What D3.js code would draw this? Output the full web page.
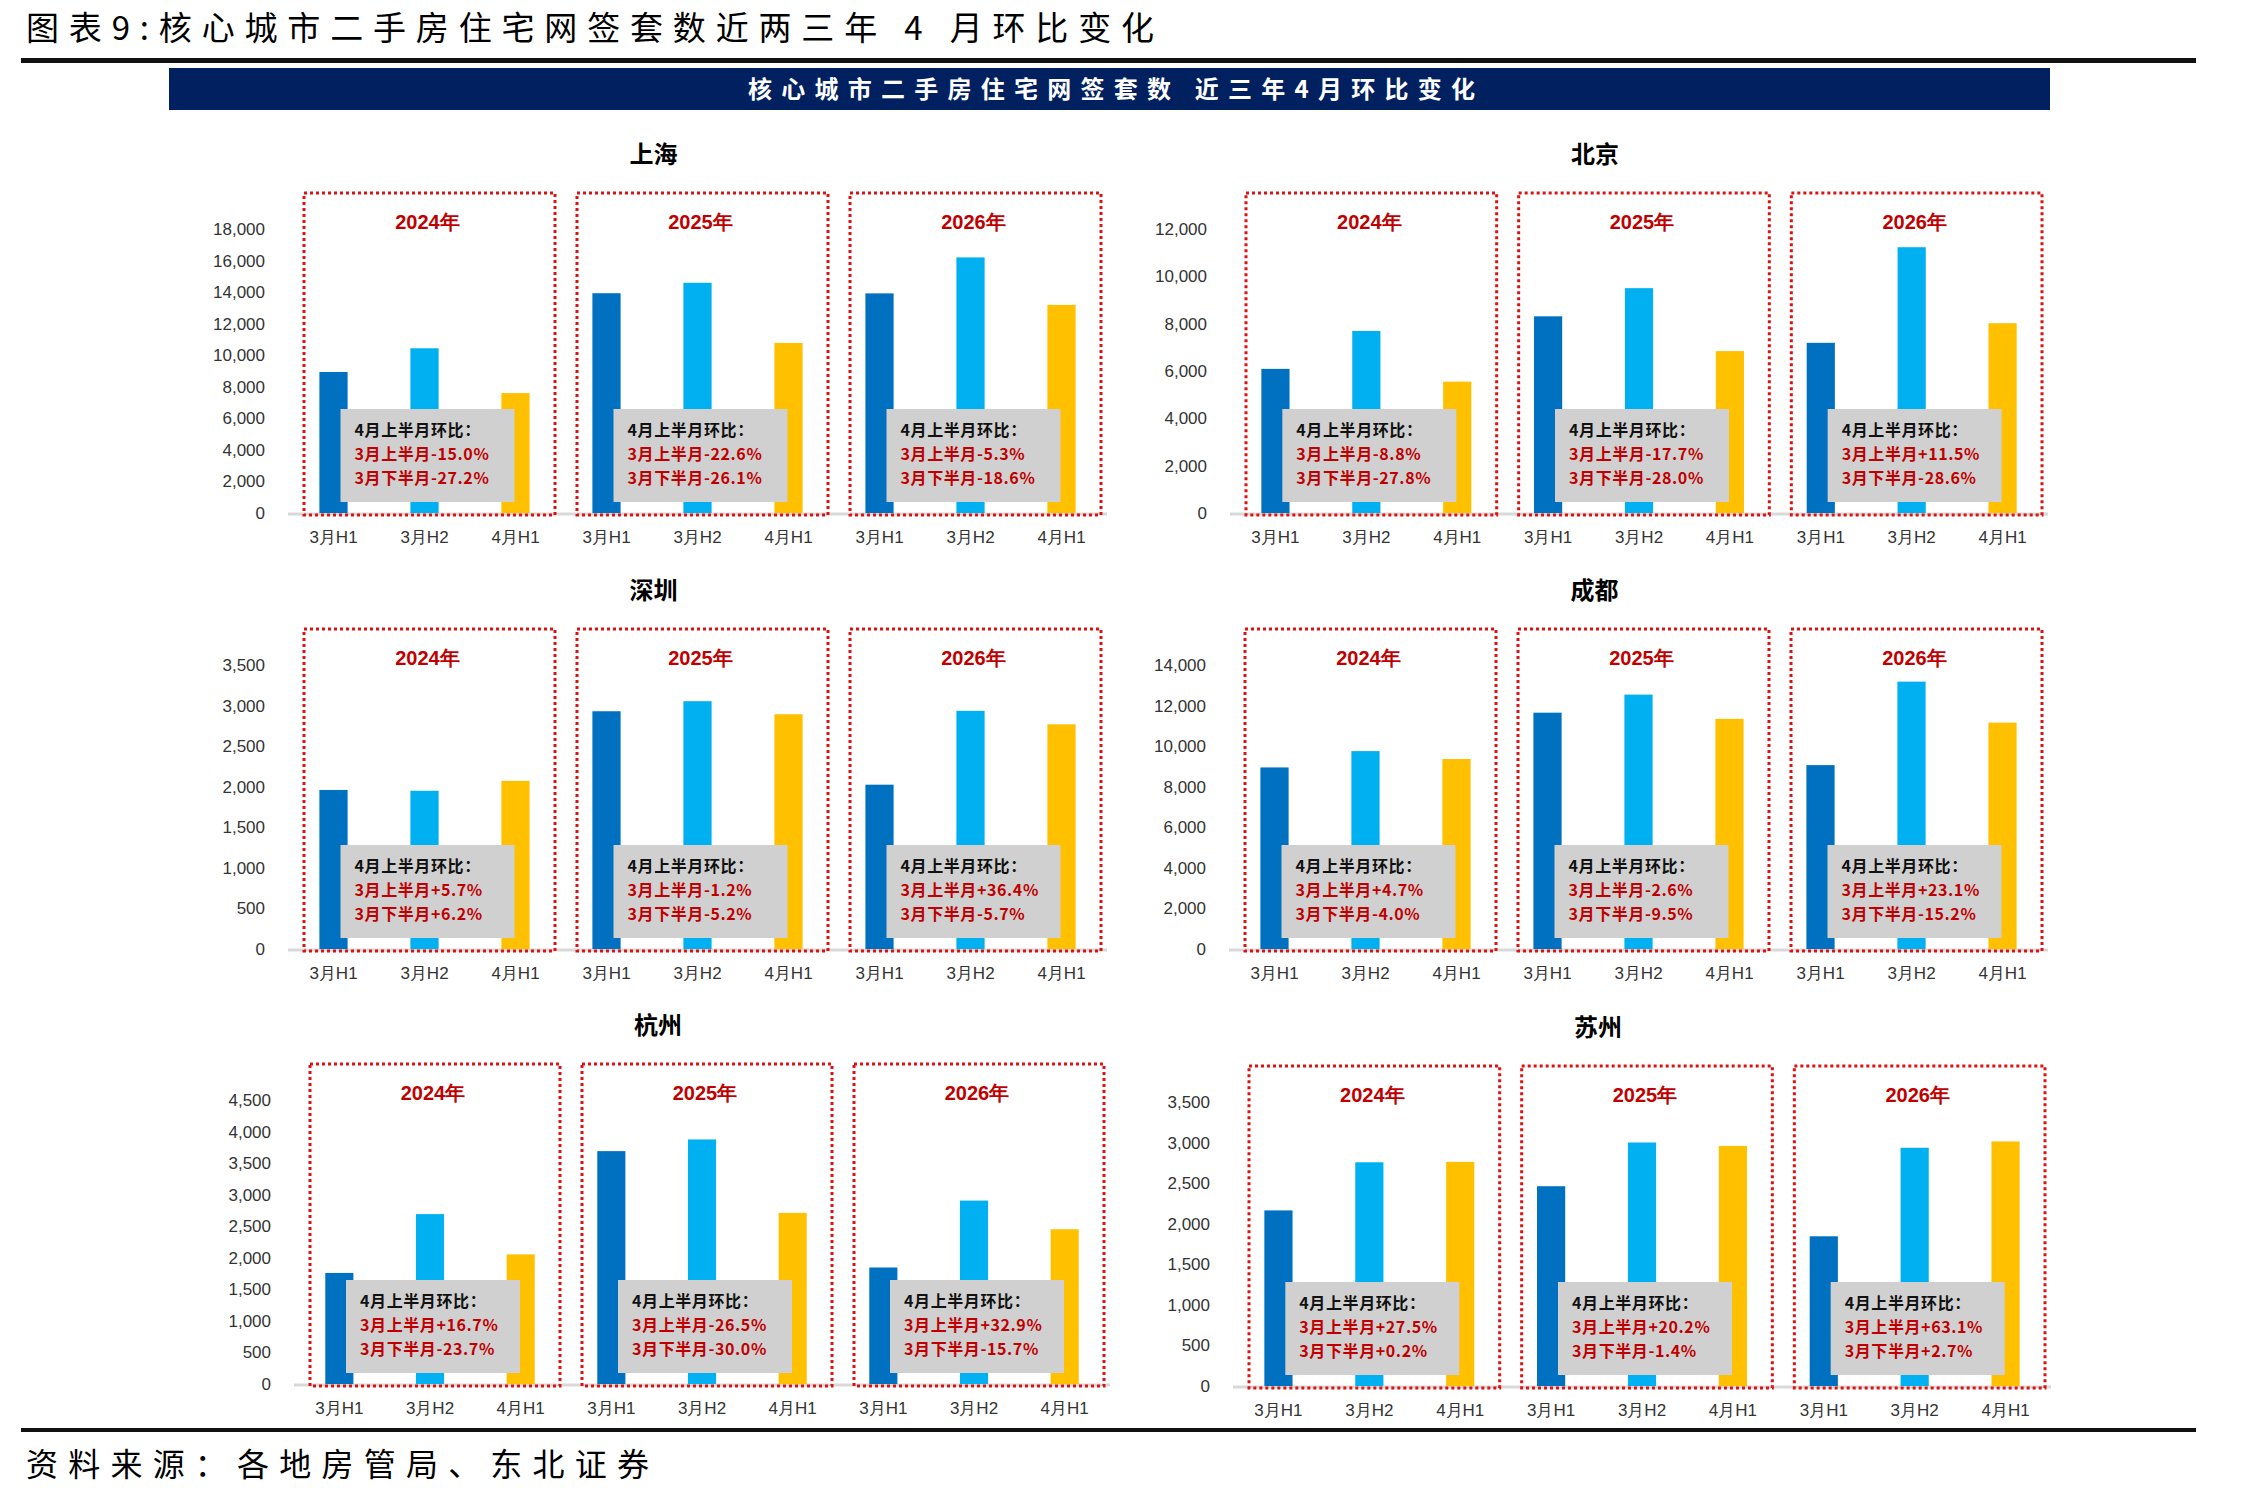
<!DOCTYPE html>
<html>
<head>
<meta charset="utf-8">
<script src="https://cdn.jsdelivr.net/npm/d3@7"></script>
<style>
  body { margin: 0; background: #fff; }
  svg { display: block; }
</style>
</head>
<body>
<svg id="chart"></svg>
<script>
const W = 2268, H = 1499

const cats = ['3月H1', '3月H2', '4月H1']
const years = ['2024年', '2025年', '2026年']

// 网签套数：每个城市 [年份][3月H1, 3月H2, 4月H1]
const shanghai = [[8940, 10440, 7600], [13930, 14590, 10780], [13920, 16200, 13190]]
const beijing = [[6090, 7690, 5550], [8310, 9500, 6840], [7190, 11230, 8020]]
const shenzhen = [[1960, 1950, 2072], [2930, 3054, 2893], [2025, 2935, 2769]]
const chengdu = [[8950, 9755, 9365], [11650, 12540, 11345], [9065, 13180, 11160]]
const hangzhou = [[1760, 2692, 2054], [3690, 3875, 2712], [1846, 2906, 2452]]
const suzhou = [[2164, 2757, 2762], [2462, 3001, 2959], [1845, 2936, 3014]]

// y轴刻度
const shanghaiTicks = [0, 2000, 4000, 6000, 8000, 10000, 12000, 14000, 16000, 18000]
const beijingTicks = [0, 2000, 4000, 6000, 8000, 10000, 12000]
const shenzhenTicks = [0, 500, 1000, 1500, 2000, 2500, 3000, 3500]
const chengduTicks = [0, 2000, 4000, 6000, 8000, 10000, 12000, 14000]
const hangzhouTicks = [0, 500, 1000, 1500, 2000, 2500, 3000, 3500, 4000, 4500]
const suzhouTicks = [0, 500, 1000, 1500, 2000, 2500, 3000, 3500]

// 4月上半月环比：[较3月上半月, 较3月下半月]
const shanghaiPct = [['-15.0%', '-27.2%'], ['-22.6%', '-26.1%'], ['-5.3%', '-18.6%']]
const beijingPct = [['-8.8%', '-27.8%'], ['-17.7%', '-28.0%'], ['+11.5%', '-28.6%']]
const shenzhenPct = [['+5.7%', '+6.2%'], ['-1.2%', '-5.2%'], ['+36.4%', '-5.7%']]
const chengduPct = [['+4.7%', '-4.0%'], ['-2.6%', '-9.5%'], ['+23.1%', '-15.2%']]
const hangzhouPct = [['+16.7%', '-23.7%'], ['-26.5%', '-30.0%'], ['+32.9%', '-15.7%']]
const suzhouPct = [['+27.5%', '+0.2%'], ['+20.2%', '-1.4%'], ['+63.1%', '+2.7%']]

const colors = d3.scaleOrdinal().domain(cats).range(['#0070C0', '#00B0F0', '#FFC000'])

const numFont = '"Liberation Sans Narrow", "Liberation Sans", Arial, sans-serif'
const cjkFont = '"Noto Sans CJK SC", "Noto Sans", sans-serif'

const svg = d3.select('#chart').attr('width', W).attr('height', H)

//页眉
svg.append('text')
  .text('图表9:核心城市二手房住宅网签套数近两三年 4 月环比变化')
  .attr('x', 26).attr('y', 40)
  .attr('textLength', 1128).attr('lengthAdjust', 'spacing')
  .attr('font-family', cjkFont).attr('font-size', 33).attr('fill', '#000')

svg.append('rect').attr('x', 21).attr('y', 58).attr('width', 2175).attr('height', 5).attr('fill', '#111')

svg.append('rect').attr('x', 169).attr('y', 68).attr('width', 1881).attr('height', 42).attr('fill', '#002060')
svg.append('text')
  .text('核心城市二手房住宅网签套数  近三年4月环比变化')
  .attr('x', 748).attr('y', 98)
  .attr('textLength', 727).attr('lengthAdjust', 'spacing')
  .attr('font-family', cjkFont).attr('font-weight', 700).attr('font-size', 24).attr('fill', '#fff')

//页脚
svg.append('rect').attr('x', 21).attr('y', 1428).attr('width', 2175).attr('height', 4).attr('fill', '#111')
svg.append('text')
  .text('资料来源：各地房管局、东北证券')
  .attr('x', 26).attr('y', 1476)
  .attr('textLength', 623).attr('lengthAdjust', 'spacing')
  .attr('font-family', cjkFont).attr('font-size', 32).attr('fill', '#000')

const panels = [
  {name: '上海', values: shanghai, ticks: shanghaiTicks, pct: shanghaiPct, x0: 288, x1: 1107, zero: 513},
  {name: '北京', values: beijing, ticks: beijingTicks, pct: beijingPct, x0: 1230, x1: 2048, zero: 513},
  {name: '深圳', values: shenzhen, ticks: shenzhenTicks, pct: shenzhenPct, x0: 288, x1: 1107, zero: 949},
  {name: '成都', values: chengdu, ticks: chengduTicks, pct: chengduPct, x0: 1229, x1: 2048, zero: 949},
  {name: '杭州', values: hangzhou, ticks: hangzhouTicks, pct: hangzhouPct, x0: 294, x1: 1110, zero: 1384},
  {name: '苏州', values: suzhou, ticks: suzhouTicks, pct: suzhouPct, x0: 1233, x1: 2051, zero: 1386}
]

const keys = years.flatMap(yr => cats.map(c => yr + c))

panels.forEach(p => {
  const g = svg.append('g')

  const x = d3.scaleBand().domain(keys).range([p.x0, p.x1]).paddingInner(0.69).paddingOuter(0.345)
  const xYear = d3.scaleBand().domain(years).range([p.x0, p.x1])
  const y = d3.scaleLinear()
    .domain([0, p.ticks[p.ticks.length - 1]])
    .range([p.zero, p.zero - 284])

  //标题
  g.append('text')
    .text(p.name)
    .attr('x', (p.x0 + p.x1) / 2 - 44).attr('y', p.zero - 350)
    .attr('text-anchor', 'middle')
    .attr('font-family', cjkFont).attr('font-weight', 700).attr('font-size', 24).attr('fill', '#000')

  //eje y
  const yAxis = g.append('g')
    .attr('transform', `translate(${p.x0 - 23}, 0)`)
    .call(d3.axisLeft(y).tickValues(p.ticks).tickSize(0).tickPadding(0).tickFormat(d3.format(',')))
  yAxis.select('.domain').remove()
  yAxis.selectAll('text')
    .attr('font-family', numFont).attr('font-size', 17).attr('fill', '#333')

  //línea base
  g.append('line')
    .attr('x1', p.x0).attr('x2', p.x1)
    .attr('y1', p.zero + 1).attr('y2', p.zero + 1)
    .attr('stroke', '#d9d9d9').attr('stroke-width', 3)

  //barras
  const rows = years.flatMap((yr, i) => cats.map((c, j) => ({key: yr + c, cat: c, v: p.values[i][j]})))
  g.append('g')
    .selectAll('rect')
    .data(rows)
    .join('rect')
    .attr('x', d => x(d.key))
    .attr('y', d => y(d.v))
    .attr('width', x.bandwidth())
    .attr('height', d => p.zero - y(d.v))
    .attr('fill', d => colors(d.cat))

  //eje x
  const xAxis = g.append('g')
    .attr('transform', `translate(0, ${p.zero})`)
    .call(d3.axisBottom(x).tickSize(0).tickPadding(18).tickFormat(k => k.slice(years[0].length)))
  xAxis.select('.domain').remove()
  xAxis.selectAll('text')
    .attr('font-family', numFont).attr('font-size', 17).attr('fill', '#333')

  //cajas punteadas por año
  g.append('g')
    .selectAll('rect')
    .data(years)
    .join('rect')
    .attr('x', d => xYear(d) + 16)
    .attr('y', p.zero - 320)
    .attr('width', xYear.bandwidth() - 22)
    .attr('height', 322)
    .attr('fill', 'none')
    .attr('stroke', '#E01010')
    .attr('stroke-width', 3)
    .attr('stroke-dasharray', '3 3')

  g.append('g')
    .selectAll('text')
    .data(years)
    .join('text')
    .text(d => d)
    .attr('x', d => xYear(d) + 3 + xYear.bandwidth() / 2)
    .attr('y', p.zero - 284)
    .attr('text-anchor', 'middle')
    .attr('font-family', numFont).attr('font-weight', 700).attr('font-size', 20)
    .attr('fill', '#C00000')

  //notas grises
  const notes = g.append('g')
    .selectAll('g')
    .data(years)
    .join('g')
    .attr('transform', d => `translate(${xYear(d) + xYear.bandwidth() / 2 + 3 - 87}, ${p.zero - 104})`)

  notes.append('rect')
    .attr('width', 174).attr('height', 93)
    .attr('fill', '#D0D0D0')

  const lines = [
    {text: () => '4月上半月环比：', y: 27, fill: '#111'},
    {text: (d, i) => '3月上半月' + p.pct[i][0], y: 51, fill: '#C00000'},
    {text: (d, i) => '3月下半月' + p.pct[i][1], y: 75, fill: '#C00000'}
  ]
  lines.forEach(l => {
    notes.append('text')
      .text(l.text)
      .attr('x', 14).attr('y', l.y)
      .attr('font-family', cjkFont).attr('font-weight', 700).attr('font-size', 16)
      .attr('letter-spacing', 0.6).attr('fill', l.fill)
  })
})
</script>
</body>
</html>
